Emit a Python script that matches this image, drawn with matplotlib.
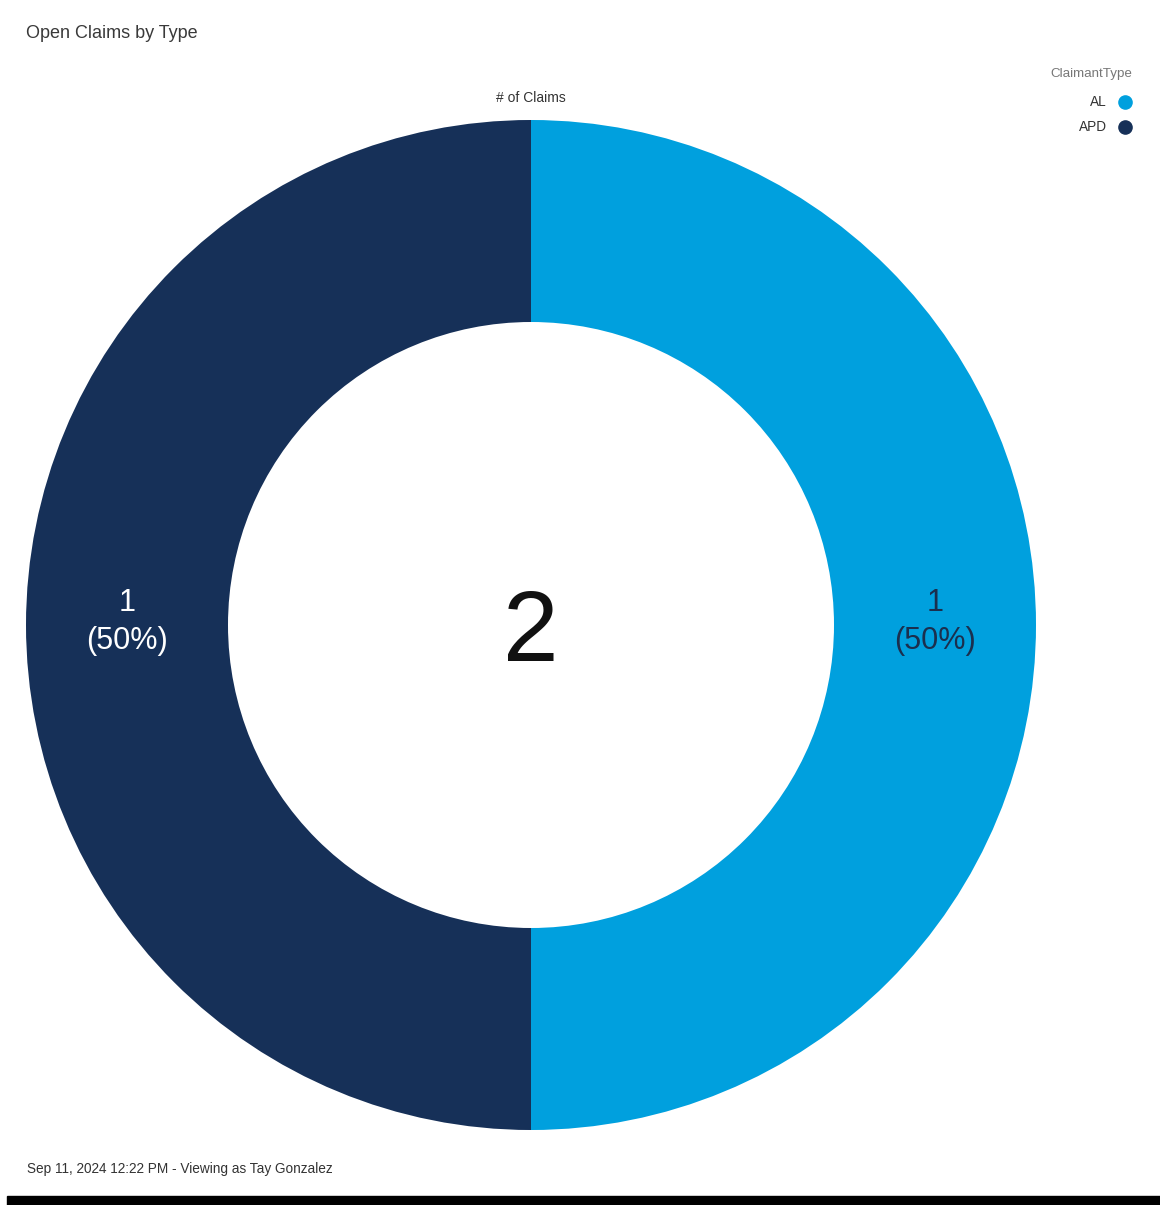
import matplotlib.pyplot as plt
from matplotlib.patches import Rectangle
import numpy as np

plt.rcParams['font.family'] = ['Liberation Sans', 'DejaVu Sans']

# data
claim_types = ['AL', 'APD']
claim_counts = [1, 1]
colors = ['#00A0DE', '#163058']
label_colors = ['#1B2F4E', '#FFFFFF']

W, H = 1160, 1205
fig = plt.figure(figsize=(W / 100, H / 100), dpi=100)

# donut axes: center (531, 625), outer radius 505 px
cx, cy, r = 531, 625, 505
ax = fig.add_axes([(cx - r) / W, (H - cy - r) / H, 2 * r / W, 2 * r / H])
total = sum(claim_counts)
wedges, _ = ax.pie(claim_counts, colors=colors, startangle=90, counterclock=False,
                   radius=1.0, wedgeprops=dict(width=0.4, linewidth=0))
ax.set_xlim(-1, 1)
ax.set_ylim(-1, 1)
ax.set_aspect('equal')
ax.axis('off')

# wedge labels at ring middle
angle = 90.0
for val, col in zip(claim_counts, label_colors):
    span = 360.0 * val / total
    mid = np.deg2rad(angle - span / 2)
    angle -= span
    x, y = 0.8 * np.cos(mid), 0.8 * np.sin(mid)
    ax.text(x, y + 0.006, f"{val}\n({val / total:.0%})", ha='center', va='center',
            fontsize=22, color=col, linespacing=1.35)

ax.text(0, -0.02, str(total), ha='center', va='center', fontsize=72, color='#111111')

# texts
fig.text(26 / W, 1 - 34 / H, 'Open Claims by Type', ha='left', va='center',
         fontsize=13, color='#3a3a3a')
fig.text(cx / W, 1 - 98 / H, '# of Claims', ha='center', va='center',
         fontsize=10, color='#333333')
fig.text(27 / W, 1 - 1169 / H, 'Sep 11, 2024 12:22 PM - Viewing as Tay Gonzalez',
         ha='left', va='center', fontsize=9.8, color='#333333')

# legend
fig.text(1132 / W, 1 - 74 / H, 'ClaimantType', ha='right', va='center',
         fontsize=9.6, color='#777777')
for i, (name, col) in enumerate(zip(claim_types, colors)):
    yy = 1 - (102 + 25 * i) / H
    fig.text(1107 / W, yy, name, ha='right', va='center', fontsize=9.8, color='#333333')
    fig.add_artist(plt.Line2D([1125 / W], [yy], marker='o', markersize=9.5,
                              color=col, transform=fig.transFigure, linestyle='none'))

# bottom black bar
fig.add_artist(Rectangle((7 / W, 0), 1 - 7 / W, 9 / H, transform=fig.transFigure,
                         color='black'))

fig.savefig('out.png', dpi=100, facecolor='white')
